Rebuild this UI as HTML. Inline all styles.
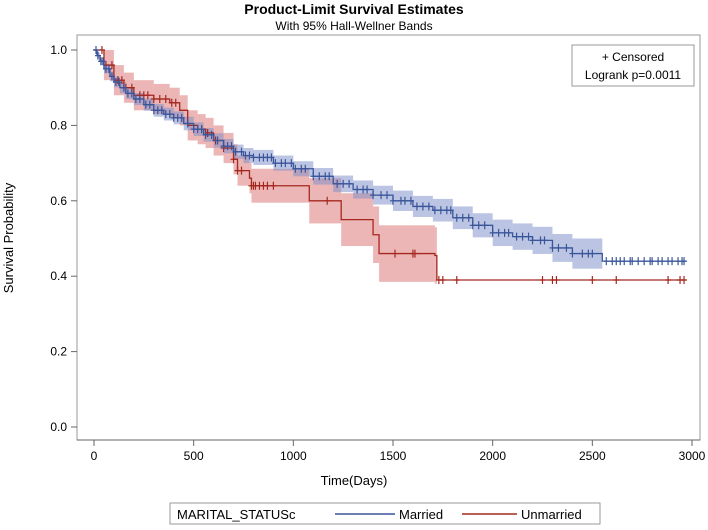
<!DOCTYPE html>
<html><head><meta charset="utf-8"><style>
body{margin:0;background:#fff;font-family:"Liberation Sans",Arial,sans-serif}
svg text{font-family:"Liberation Sans",Arial,sans-serif}
</style></head><body>
<svg id="c" width="708" height="525" xmlns="http://www.w3.org/2000/svg">
<text x="354" y="14" text-anchor="middle" font-size="14" font-weight="bold">Product-Limit Survival Estimates</text>
<text x="354" y="30" text-anchor="middle" font-size="12">With 95% Hall-Wellner Bands</text>
<rect x="77" y="35" width="623" height="405" fill="none" stroke="#999"/>
<g id="bands"></g><g id="lines"></g><g id="axes"></g>
<rect x="572" y="45" width="122" height="41" fill="#fff" stroke="#999"/>
<text x="633" y="61" text-anchor="middle" font-size="12">+ Censored</text>
<text x="633" y="79" text-anchor="middle" font-size="12">Logrank p=0.0011</text>
<text x="354" y="485" text-anchor="middle" font-size="13">Time(Days)</text>
<text transform="translate(13,238) rotate(-90)" text-anchor="middle" font-size="13">Survival Probability</text>
<g>
<rect x="170" y="503" width="430" height="21" fill="#fff" stroke="#999"/>
<text x="177" y="519" font-size="13">MARITAL_STATUSc</text>
<line x1="335" y1="514" x2="395" y2="514" stroke="#3a559a" stroke-width="1.5"/>
<text x="399" y="519" font-size="13">Married</text>
<line x1="462" y1="514" x2="517" y2="514" stroke="#a5281f" stroke-width="1.5"/>
<text x="521" y="519" font-size="13">Unmarried</text>
</g>
</svg>
<script>
const xTicks=[0,500,1000,1500,2000,2500,3000];
const yTicks=[0,0.2,0.4,0.6,0.8,1.0];
const marriedT=[0,15,30,50,80,100,130,160,200,250,300,350,400,450,500,550,600,650,700,750,800,900,1000,1100,1200,1300,1400,1500,1600,1700,1800,1900,2000,2100,2200,2300,2400,2550];
const marriedS=[1,.985,.97,.95,.93,.915,.90,.885,.87,.855,.84,.83,.82,.805,.79,.775,.76,.745,.73,.72,.715,.70,.685,.665,.645,.63,.615,.60,.585,.575,.555,.535,.515,.505,.495,.475,.46,.44];
const marriedHW=[0,.008,.01,.012,.013,.014,.015,.015,.016,.016,.017,.017,.017,.018,.018,.018,.019,.019,.019,.02,.02,.02,.02,.022,.022,.024,.025,.027,.028,.03,.03,.032,.035,.035,.036,.037,.04,0];
const marriedEnd=2970;
const unmT=[0,50,100,150,200,300,380,430,470,520,560,600,650,700,720,780,790,1080,1240,1400,1430,1710,1720];
const unmS=[1,.96,.92,.90,.88,.87,.86,.84,.80,.79,.78,.76,.74,.71,.68,.66,.64,.60,.55,.51,.46,.455,.39];
const unmHW=[0,.04,.04,.04,.04,.04,.04,.04,.04,.04,.04,.04,.04,.04,.04,.04,.045,.06,.07,.075,.075,.075,0];
const unmEnd=2970;
const marriedCens=[10,20,35,45,60,75,90,110,125,150,170,190,210,230,260,280,300,320,340,360,380,400,420,440,470,500,520,540,560,590,620,650,670,690,710,740,760,780,800,830,850,870,890,910,940,960,990,1010,1040,1060,1100,1130,1160,1180,1220,1250,1280,1320,1350,1370,1400,1440,1470,1500,1540,1560,1590,1620,1650,1680,1710,1740,1770,1790,1820,1850,1880,1900,1930,1960,2000,2030,2060,2080,2120,2150,2180,2200,2240,2260,2300,2330,2370,2400,2450,2480,2500,2570,2600,2620,2640,2660,2690,2700,2730,2760,2790,2800,2830,2850,2880,2900,2930,2950,2960];
const unmCens=[40,60,90,120,140,160,190,230,250,270,300,330,360,390,410,540,570,610,650,700,720,740,790,800,810,830,850,870,900,1170,1510,1600,1610,1730,1750,1820,2250,2300,2320,2500,2620,2880,2940,2960];
const X=d=>94+d*(598/3000), Y=s=>427-s*377;
const NS="http://www.w3.org/2000/svg";
function mk(tag,attrs,parent){const e=document.createElementNS(NS,tag);for(const k in attrs)e.setAttribute(k,attrs[k]);document.getElementById(parent).appendChild(e);return e;}
const ax='axes';
let a=mk('line',{x1:77,y1:440,x2:700,y2:440,stroke:'#666'},ax);


xTicks.forEach(t=>{mk('line',{x1:X(t),y1:440,x2:X(t),y2:446,stroke:'#666'},ax);
 const e=mk('text',{x:X(t),y:460,'text-anchor':'middle','font-size':12},ax);e.textContent=t;
 
 });
yTicks.forEach(t=>{mk('line',{x1:71,y1:Y(t),x2:77,y2:Y(t),stroke:'#666'},ax);
 const e=mk('text',{x:67,y:Y(t)+4,'text-anchor':'end','font-size':12},ax);e.textContent=t.toFixed(1);
 
 });
function survAt(T,S,d){let s=S[0];for(let i=0;i<T.length;i++)if(T[i]<=d)s=S[i];return s;}
function draw(T,S,HW,end,cens,col,bandCol,name){
 for(let i=0;i<T.length;i++){const t2=i+1<T.length?T[i+1]:end;if(HW[i]>0){
  const r=mk('rect',{x:X(T[i]),y:Y(S[i]+HW[i]),width:X(t2)-X(T[i]),height:Y(S[i]-HW[i])-Y(S[i]+HW[i]),fill:bandCol},'bands');
  
  }}
 let d=`M${X(T[0])},${Y(S[0])}`;
 for(let i=1;i<T.length;i++)d+=`H${X(T[i])}V${Y(S[i])}`;
 d+=`H${X(end)}`;
 const p=mk('path',{d:d,fill:'none',stroke:col,'stroke-width':1.3},'lines');
 
 
 cens.forEach(c=>{const x=X(c),y=Y(survAt(T,S,c));
  const m=mk('path',{d:`M${x},${y-4}V${y+4}M${x-3},${y}H${x+3}`,stroke:col,'stroke-width':1.2},'lines');
  
  });
}
draw(unmT,unmS,unmHW,unmEnd,unmCens,'#a5281f','rgba(220,110,110,0.5)','unmarried');
draw(marriedT,marriedS,marriedHW,marriedEnd,marriedCens,'#3a559a','rgba(120,140,200,0.5)','married');
</script>
</body></html>
